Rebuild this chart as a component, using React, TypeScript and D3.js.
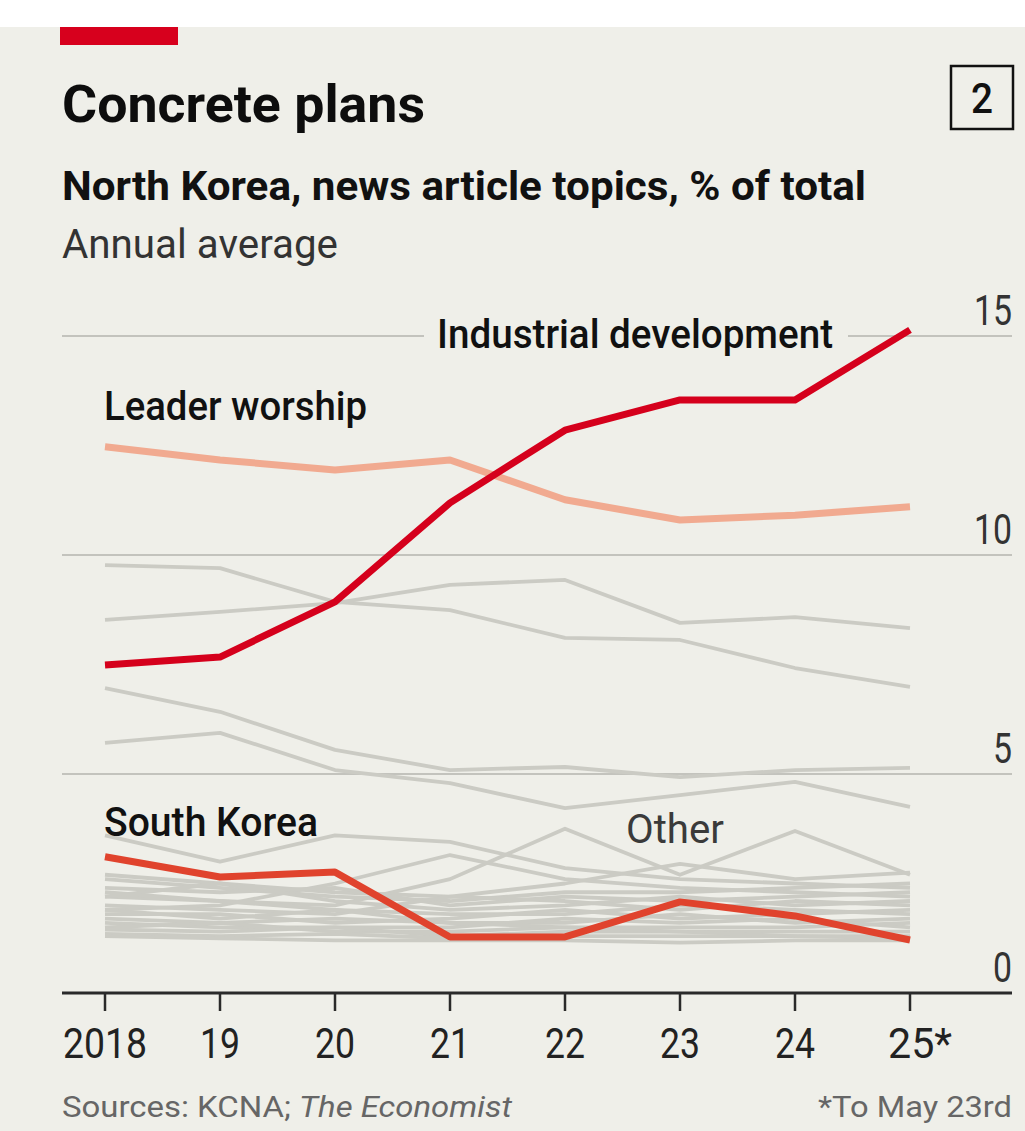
import React from "react";
import * as d3 from "d3";

// years on the x axis
const years = [2018, 2019, 2020, 2021, 2022, 2023, 2024, 2025];
const yearLabels = ["2018", "19", "20", "21", "22", "23", "24", "25*"];
const yTicks = [0, 5, 10, 15];

// highlighted topics, % of total
const industrial = [7.49, 7.67, 8.93, 11.19, 12.85, 13.54, 13.54, 15.14];
const leaderWorship = [12.47, 12.17, 11.94, 12.17, 11.26, 10.8, 10.91, 11.1];
const southKorea = [3.11, 2.65, 2.76, 1.28, 1.28, 2.08, 1.76, 1.21];

// the grey "other" topics
const others: number[][] = [
  [9.77, 9.7, 8.93, 8.74, 8.11, 8.06, 7.42, 6.99],
  [8.52, 8.7, 8.9, 9.32, 9.43, 8.45, 8.58, 8.33],
  [6.96, 6.42, 5.55, 5.09, 5.16, 4.93, 5.09, 5.14],
  [5.71, 5.94, 5.09, 4.79, 4.22, 4.52, 4.82, 4.25],
  [3.6, 3.0, 3.6, 3.45, 2.85, 2.6, 2.5, 2.4],
  [2.2, 2.1, 2.0, 2.6, 3.75, 2.7, 3.7, 2.7],
  [1.9, 2.0, 2.5, 3.15, 2.6, 2.4, 2.3, 2.2],
  [2.7, 2.5, 2.3, 2.2, 2.5, 2.95, 2.6, 2.75],
  [2.6, 2.4, 2.2, 2.1, 2.3, 2.3, 2.4, 2.5],
  [2.4, 2.3, 2.4, 2.0, 2.2, 2.1, 2.2, 2.3],
  [2.2, 2.5, 2.1, 1.9, 2.0, 2.2, 2.0, 2.1],
  [2.0, 1.9, 1.8, 2.2, 2.1, 1.9, 2.1, 2.0],
  [1.9, 1.7, 1.9, 1.8, 1.8, 2.0, 1.9, 1.8],
  [1.8, 1.8, 1.6, 1.7, 1.9, 1.7, 1.8, 1.9],
  [1.7, 1.6, 1.7, 1.6, 1.6, 1.8, 1.6, 1.7],
  [1.6, 1.5, 1.5, 1.5, 1.7, 1.6, 1.7, 1.5],
  [1.5, 1.6, 1.4, 1.4, 1.5, 1.5, 1.5, 1.6],
  [1.45, 1.4, 1.5, 1.3, 1.4, 1.4, 1.4, 1.4],
  [1.35, 1.3, 1.35, 1.25, 1.3, 1.3, 1.3, 1.3],
  [1.3, 1.25, 1.2, 1.2, 1.2, 1.15, 1.2, 1.2],
  [2.3, 2.1, 1.9, 1.6, 1.5, 1.4, 1.3, 1.25],
];

const W = 1025;
const H = 1131;
const BG = "#efefe9";
const FONT = "Roboto, 'Liberation Sans', sans-serif";

const App: React.FC = () => {
  const x = d3.scaleLinear().domain([2018, 2025]).range([105, 910]);
  const y = d3.scaleLinear().domain([0, 15]).range([993, 336]);

  const line = d3
    .line<number>()
    .x((_, i) => x(years[i]))
    .y((d) => y(d))
    .curve(d3.curveLinear);

  const gridLeft = 62;
  const gridRight = 1012;

  return (
    <div style={{ position: "absolute", left: 0, top: 0 }}>
      <svg width={W} height={H} style={{ display: "block", fontFamily: FONT }}>
        <rect x={0} y={0} width={W} height={H} fill="#fff" />
        <rect x={0} y={27} width={W} height={H - 27} fill={BG} />
        <rect x={60} y={27} width={118} height={18} fill="#d7001d" />

        <text x={62} y={122} fontSize={52} fontWeight={700} fill="#0d0d0d" textLength={363} lengthAdjust="spacingAndGlyphs">
          Concrete plans
        </text>
        <rect x={951} y={66} width={62} height={63} fill="none" stroke="#111" strokeWidth={2.5} />
        <text x={982} y={113} fontSize={42} fontWeight={500} textAnchor="middle" fill="#111" textLength={22} lengthAdjust="spacingAndGlyphs">
          2
        </text>
        <text x={62} y={200} fontSize={40} fontWeight={700} fill="#111" textLength={804} lengthAdjust="spacingAndGlyphs">
          North Korea, news article topics, % of total
        </text>
        <text x={62} y={258} fontSize={41} fill="#333" textLength={276} lengthAdjust="spacingAndGlyphs">
          Annual average
        </text>

        {/* gridlines */}
        {yTicks
          .filter((t) => t > 0)
          .map((t) => (
            <line key={t} x1={gridLeft} x2={gridRight} y1={y(t)} y2={y(t)} stroke="#b4b4ae" strokeWidth={1.6} />
          ))}
        <rect x={424} y={y(15) - 6} width={424} height={12} fill={BG} />
        {yTicks.map((t) => (
          <text
            key={t}
            x={1012}
            y={y(t) - 11}
            fontSize={42}
            textAnchor="end"
            fill="#333"
            textLength={t >= 10 ? 38 : 19}
            lengthAdjust="spacingAndGlyphs"
          >
            {t}
          </text>
        ))}

        {/* other topics */}
        <g fill="none" stroke="#cbcbc4" strokeWidth={3.8} strokeLinejoin="round">
          {others.map((s, i) => (
            <path key={i} d={line(s) || ""} />
          ))}
        </g>

        <path d={line(leaderWorship) || ""} fill="none" stroke="#f1aa90" strokeWidth={7} strokeLinejoin="round" />
        <path d={line(southKorea) || ""} fill="none" stroke="#e0432d" strokeWidth={7} strokeLinejoin="round" />
        <path d={line(industrial) || ""} fill="none" stroke="#d5001c" strokeWidth={7} strokeLinejoin="round" />

        {/* labels */}
        <text x={437} y={348} fontSize={40} fontWeight={500} fill="#111" textLength={396} lengthAdjust="spacingAndGlyphs">
          Industrial development
        </text>
        <text x={104} y={420} fontSize={40} fontWeight={500} fill="#111" textLength={263} lengthAdjust="spacingAndGlyphs">
          Leader worship
        </text>
        <text x={104} y={836} fontSize={40} fontWeight={500} fill="#111" textLength={214} lengthAdjust="spacingAndGlyphs">
          South Korea
        </text>
        <text x={626} y={843} fontSize={40} fill="#3a3a3a" textLength={98} lengthAdjust="spacingAndGlyphs">
          Other
        </text>

        {/* x axis */}
        <line x1={gridLeft} x2={gridRight} y1={y(0)} y2={y(0)} stroke="#2a2a2a" strokeWidth={3} />
        {years.map((yr, i) => {
          const lab = yearLabels[i];
          const last = i === years.length - 1;
          return (
            <g key={yr}>
              <line x1={x(yr)} x2={x(yr)} y1={y(0)} y2={y(0) + 18} stroke="#2a2a2a" strokeWidth={2.5} />
              <text
                x={last ? x(yr) - 22 : x(yr)}
                y={1058}
                fontSize={42}
                textAnchor={last ? "start" : "middle"}
                fill="#222"
                textLength={lab.length === 4 ? 84 : last ? 64 : 40}
                lengthAdjust="spacingAndGlyphs"
              >
                {lab}
              </text>
            </g>
          );
        })}

        <text x={62} y={1117} fontSize={30} fill="#666" textLength={450} lengthAdjust="spacingAndGlyphs">
          Sources: KCNA; <tspan fontStyle="italic">The Economist</tspan>
        </text>
        <text x={1012} y={1117} fontSize={30} fill="#666" textAnchor="end" textLength={194} lengthAdjust="spacingAndGlyphs">
          *To May 23rd
        </text>
      </svg>
    </div>
  );
};

export default App;
